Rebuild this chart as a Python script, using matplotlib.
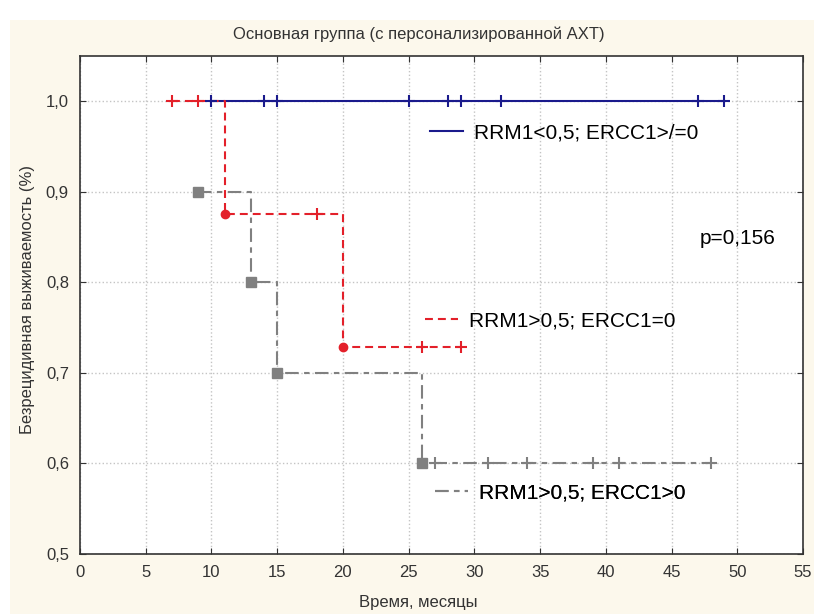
import matplotlib.pyplot as plt
from matplotlib.lines import Line2D
from matplotlib.patches import Rectangle
import numpy as np

plt.rcParams['font.family'] = ['Liberation Sans', 'DejaVu Sans']

# Данные (время в месяцах, выживаемость, событие=1 / цензура=0)
blue_t = [10, 14, 15, 25, 28, 29, 32, 47, 49]
blue_s = [1.0] * 9
blue_e = [0] * 9

red_t = [7, 9, 11, 18, 20, 26, 29]
red_s = [1.0, 1.0, 0.875, 0.875, 0.729, 0.729, 0.729]
red_e = [0, 0, 1, 0, 1, 0, 0]

gray_t = [9, 13, 15, 26, 27, 31, 34, 39, 41, 48]
gray_s = [0.9, 0.8, 0.7, 0.6, 0.6, 0.6, 0.6, 0.6, 0.6, 0.6]
gray_e = [1, 1, 1, 1, 0, 0, 0, 0, 0, 0]

labels = ['RRM1<0,5; ERCC1>/=0', 'RRM1>0,5; ERCC1=0', 'RRM1>0,5; ERCC1>0']
title = 'Основная группа (с персонализированной АХТ)'
xticks = list(range(0, 56, 5))
yticks = [0.5, 0.6, 0.7, 0.8, 0.9, 1.0]

fig = plt.figure(figsize=(8.14, 6.14), dpi=100, facecolor='white')
fig.patches.append(Rectangle((10 / 814, 0.5 / 614), 804 / 814, 594 / 614,
                             transform=fig.transFigure, facecolor='#fcf8ec',
                             edgecolor='none', zorder=-10))
ax = fig.add_axes([80 / 814, 1 - 554 / 614, 723 / 814, 498 / 614])
ax.set_facecolor('white')

blue = '#1a1a8c'
red = '#e3202a'
gray = '#808080'
red_ls = (0, (3.8, 2.4))
gray_ls = (0, (6.5, 2.6, 2.6, 2.6))

series = [
    (blue_t, blue_s, blue_e, blue, '-', None),
    (red_t, red_s, red_e, red, red_ls, 'o'),
    (gray_t, gray_s, gray_e, gray, gray_ls, 's'),
]
for t, s, e, col, ls, ev_marker in series:
    t = np.array(t)
    s = np.array(s)
    e = np.array(e)
    ax.plot(t, s, drawstyle='steps-post', color=col, linestyle=ls, lw=1.5, zorder=3)
    cens = e == 0
    ax.plot(t[cens], s[cens], linestyle='none', marker='+', ms=8, mew=1.5,
            color=col, zorder=4)
    if ev_marker is not None:
        ax.plot(t[~cens], s[~cens], linestyle='none', marker=ev_marker,
                ms=6.5 if ev_marker == 's' else 6, color=col, zorder=4)

# подписи групп
positions = [(0.484, 0.845), (0.477, 0.468), (0.491, 0.1225)]
styles = [(blue, '-'), (red, red_ls), (gray, gray_ls)]
for lab, (fx, fy), (col, ls) in zip(labels, positions, styles):
    h = Line2D([], [], color=col, linestyle=ls, lw=1.5)
    leg = ax.legend([h], [lab], loc='center left', bbox_to_anchor=(fx, fy),
                    frameon=False, fontsize=15, handlelength=1.6, handletextpad=0.5,
                    borderaxespad=0, borderpad=0)
    ax.add_artist(leg)

ax.text(0.857, 0.633, 'p=0,156', fontsize=15, va='center', ha='left',
        transform=ax.transAxes)

ax.set_xlim(0, 55)
ax.set_ylim(0.5, 1.05)
ax.set_xticks(xticks)
ax.set_yticks(yticks)
ax.set_yticklabels([f'{v:.1f}'.replace('.', ',') for v in yticks])
ax.tick_params(direction='in', length=4, top=True, right=True, labelsize=12,
               colors='#333333', labelcolor='#333333')
ax.tick_params(axis='x', pad=8)
ax.tick_params(axis='y', pad=8)
ax.grid(True, linestyle=':', color='#c4c4c4', lw=1)
for sp in ax.spines.values():
    sp.set_color('#333333')
    sp.set_linewidth(1.2)

fig.text(419 / 814, 1 - 34 / 614, title, ha='center', va='center', fontsize=12,
         color='#333333')
fig.text(418 / 814, 1 - 603 / 614, 'Время, месяцы', ha='center', va='center',
         fontsize=12, color='#333333')
fig.text(28 / 814, 1 - 300 / 614, 'Безрецидивная выживаемость (%)', ha='center',
         va='center', rotation=90, fontsize=12, color='#333333')

fig.savefig('out.png', dpi=100, facecolor=fig.get_facecolor())
